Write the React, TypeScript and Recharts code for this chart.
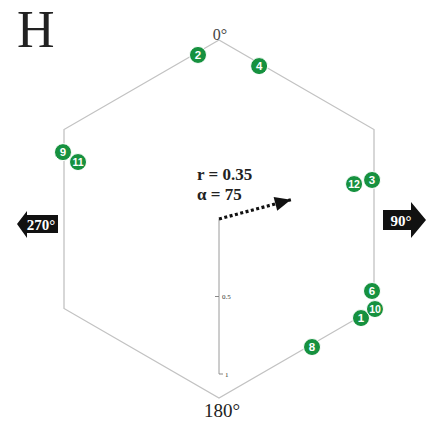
import { Scatter, ScatterChart, XAxis, YAxis } from 'recharts'

// specimen poles: compass angle (deg, clockwise from 0°) and drawn radius
const specimenIds = ['1', '2', '3', '4', '6', '8', '9', '10', '11', '12']
const specimenAngles = [124.9, 352.7, 75.7, 14.7, 115.2, 144, 293.2, 120, 292, 75.5]
const specimenRadii = [1.117, 1.067, 1.019, 1.02, 1.091, 1.021, 1.095, 1.162, 0.981, 0.9]

// hexagonal frame (vertex angles, circumradius when inradius = 1)
const hexAngles = [0, 60, 120, 180, 240, 300, 360]
const hexRadius = 1.1547

const cardinalLabels = ['0°', '90°', '180°', '270°']
const cardinalAngles = [0, 90, 180, 270]

const radiusTicks = [0, 0.5, 1]

// mean vector
const meanR = 0.35
const meanAlpha = 75
const arrowDrawnLength = 0.48

const W = 428
const H = 438
const UNIT = 155 // px per radius unit
const CX = 219
const CY = 219
const SERIF = "'Liberation Serif', 'Times New Roman', serif"
const GREEN = '#16913f'

const polar = (angle: number, r: number) => {
  const a = (angle * Math.PI) / 180
  return { x: r * Math.sin(a), y: r * Math.cos(a) }
}

const hexData = hexAngles.map((a) => polar(a, hexRadius))
const specimenData = specimenIds.map((id, i) => ({
  id,
  ...polar(specimenAngles[i], specimenRadii[i]),
}))
const cardinalData = cardinalLabels.map((label, i) => ({
  label,
  angle: cardinalAngles[i],
  ...polar(cardinalAngles[i], 1.2),
}))
const axisData = radiusTicks.map((t) => ({ tick: t, x: 0, y: -t }))
const arrowData = [
  { end: false, x: 0, y: 0 },
  { end: true, ...polar(meanAlpha, arrowDrawnLength) },
]

const Empty = () => <g />

const SpecimenDot = (props: any) => {
  const { cx, cy, payload } = props
  return (
    <g>
      <circle cx={cx} cy={cy} r={8.5} fill={GREEN} stroke="#fff" strokeWidth={1} />
      <text
        x={cx}
        y={cy + 4}
        textAnchor="middle"
        fill="#fff"
        fontSize={payload.id.length > 1 ? 10.5 : 11.5}
        fontWeight="bold"
        fontFamily="Arial, sans-serif"
      >
        {payload.id}
      </text>
    </g>
  )
}

const CardinalMark = (props: any) => {
  const { cx, cy, payload } = props
  if (payload.angle === 0) {
    return (
      <text x={cx + 1} y={cy + 7} textAnchor="middle" fontSize={16} fill="#444" fontFamily={SERIF}>
        {payload.label}
      </text>
    )
  }
  if (payload.angle === 180) {
    return (
      <text x={cx + 3} y={cy + 12} textAnchor="middle" fontSize={19} fill="#222" fontFamily={SERIF}>
        {payload.label}
      </text>
    )
  }
  if (payload.angle === 90) {
    const y = cy + 1
    const pts = [
      [-22, -10], [6, -10], [6, -18], [21, 0], [6, 18], [6, 10], [-22, 10],
    ]
      .map(([dx, dy]) => `${cx + dx},${y + dy}`)
      .join(' ')
    return (
      <g>
        <polygon points={pts} fill="#111" />
        <text x={cx - 4} y={y + 6} textAnchor="middle" fontSize={15} fontWeight="bold" fill="#fff" fontFamily={SERIF}>
          {payload.label}
        </text>
      </g>
    )
  }
  const y = cy + 5
  const pts = [
    [-16, 0], [-6, -13], [-6, -9], [25, -9], [25, 9], [-6, 9], [-6, 14],
  ]
    .map(([dx, dy]) => `${cx + dx},${y + dy}`)
    .join(' ')
  return (
    <g>
      <polygon points={pts} fill="#111" />
      <text x={cx + 8} y={y + 6} textAnchor="middle" fontSize={15} fontWeight="bold" fill="#fff" fontFamily={SERIF}>
        {payload.label}
      </text>
    </g>
  )
}

const AxisTick = (props: any) => {
  const { cx, cy, payload } = props
  if (payload.tick === 0) {
    return (
      <g>
        <text x={cx - 22} y={cy - 39} fontSize={17} fontWeight="bold" fill="#222" fontFamily={SERIF}>
          {`r = ${meanR}`}
        </text>
        <text x={cx - 22} y={cy - 19} fontSize={17} fontWeight="bold" fill="#222" fontFamily={SERIF}>
          {`α = ${meanAlpha}`}
        </text>
      </g>
    )
  }
  if (payload.tick === 1) {
    return (
      <g>
        <line x1={cx} y1={cy} x2={cx + 4} y2={cy} stroke="#888" strokeWidth={1} />
        <text x={cx + 6} y={cy + 2.5} fontSize={7} fill="#333" fontFamily={SERIF}>
          {payload.tick}
        </text>
      </g>
    )
  }
  return (
    <g>
      <line x1={cx - 4} y1={cy} x2={cx} y2={cy} stroke="#888" strokeWidth={1} />
      <text x={cx + 3} y={cy + 2.5} fontSize={7} fill="#333" fontFamily={SERIF}>
        {payload.tick}
      </text>
    </g>
  )
}

const ArrowHead = (props: any) => {
  const { cx, cy, payload } = props
  if (!payload.end) return <g />
  return (
    <polygon
      points={`${cx},${cy} ${cx - 16},${cy - 7} ${cx - 16},${cy + 7}`}
      fill="#111"
      transform={`rotate(${meanAlpha - 90} ${cx} ${cy})`}
    />
  )
}

export default function App() {
  return (
    <div style={{ position: 'absolute', left: 0, top: 0, width: W, height: H, background: '#fff' }}>
      <ScatterChart width={W} height={H} margin={{ top: 0, right: 0, bottom: 0, left: 0 }}>
        <XAxis
          type="number"
          dataKey="x"
          hide
          allowDataOverflow
          domain={[-CX / UNIT, (W - CX) / UNIT]}
        />
        <YAxis
          type="number"
          dataKey="y"
          hide
          allowDataOverflow
          domain={[-(H - CY) / UNIT, CY / UNIT]}
        />
        <Scatter
          data={hexData}
          line={{ stroke: '#c2c2c2', strokeWidth: 1.3 }}
          lineType="joint"
          shape={Empty}
          isAnimationActive={false}
        />
        <Scatter
          data={axisData}
          line={{ stroke: '#9a9a9a', strokeWidth: 1 }}
          lineType="joint"
          shape={AxisTick}
          isAnimationActive={false}
        />
        <Scatter
          data={arrowData}
          line={{ stroke: '#111', strokeWidth: 3.2, strokeDasharray: '3 2.5' }}
          lineType="joint"
          shape={ArrowHead}
          isAnimationActive={false}
        />
        <Scatter data={cardinalData} shape={CardinalMark} isAnimationActive={false} />
        <Scatter data={specimenData} shape={SpecimenDot} isAnimationActive={false} />
      </ScatterChart>
      <svg width={80} height={60} style={{ position: 'absolute', left: 0, top: 0 }}>
        <text x={17} y={47} fontSize={52} fill="#222" fontFamily={SERIF}>
          H
        </text>
      </svg>
    </div>
  )
}
